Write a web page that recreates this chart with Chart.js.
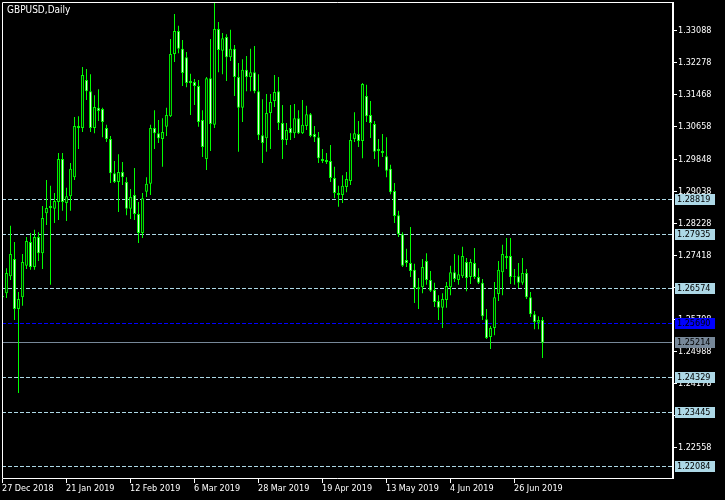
<!DOCTYPE html>
<html>
<head>
<meta charset="utf-8">
<script src="https://cdn.jsdelivr.net/npm/chart.js@4.4.0/dist/chart.umd.min.js"></script>
<style>
  html, body { margin: 0; padding: 0; background: #000; }
</style>
</head>
<body>
<canvas id="myChart" width="725" height="500"></canvas>
<script>
// GBPUSD daily, 27 Dec 2018 .. 5 Jul 2019 (one entry per bar)
var openP = [
 1.2639,1.2646,1.2689,1.2732,1.2606,1.2636,1.2715,1.2775,1.2712,1.2788,
 1.2747,1.2848,1.2866,1.2859,1.2876,1.2985,1.2874,1.2891,1.2939,1.3068,
 1.3063,1.3184,1.3156,1.3063,1.3114,1.3111,1.3063,1.3035,1.2949,1.2927,
 1.2952,1.2927,1.2859,1.2894,1.2846,1.2798,1.2902,1.2922,1.3063,1.3050,
 1.3035,1.3066,1.3093,1.3250,1.3308,1.3263,1.3242,1.3182,1.3179,1.3169,
 1.3083,1.2985,1.3189,1.3071,1.3313,1.3258,1.3293,1.3242,1.3263,1.3192,
 1.3114,1.3210,1.3192,1.3204,1.3156,1.3045,1.3037,1.3101,1.3131,1.3156,
 1.3076,1.3033,1.3063,1.3050,1.3088,1.3050,1.3068,1.3098,1.3048,1.3040,
 1.2985,1.2982,1.2980,1.2937,1.2899,1.2894,1.2914,1.2929,1.3035,1.3048,
 1.3030,1.3144,1.3096,1.3073,1.3010,1.3005,1.2992,1.2960,1.2904,1.2843,
 1.2795,1.2730,1.2722,1.2705,1.2661,1.2661,1.2727,1.2679,1.2654,1.2626,
 1.2609,1.2629,1.2661,1.2699,1.2679,1.2689,1.2725,1.2687,1.2722,1.2687,
 1.2672,1.2580,1.2535,1.2558,1.2644,1.2699,1.2735,1.2740,1.2689,1.2689,
 1.2672,1.2697,1.2636,1.2593,1.2571,1.2578
];
var highP = [
 1.2644,1.2709,1.2816,1.2775,1.2649,1.2745,1.2788,1.2798,1.2806,1.2800,
 1.2866,1.2932,1.2917,1.2899,1.3000,1.3000,1.2912,1.2975,1.3091,1.3093,
 1.3217,1.3212,1.3199,1.3146,1.3161,1.3114,1.3071,1.3043,1.2980,1.2997,
 1.2977,1.2939,1.2909,1.2962,1.2876,1.2899,1.2939,1.3071,1.3108,1.3083,
 1.3088,1.3114,1.3288,1.3351,1.3321,1.3285,1.3255,1.3200,1.3187,1.3184,
 1.3108,1.3192,1.3288,1.3379,1.3331,1.3303,1.3300,1.3311,1.3273,1.3227,
 1.3237,1.3245,1.3263,1.3270,1.3199,1.3136,1.3149,1.3149,1.3197,1.3192,
 1.3121,1.3076,1.3121,1.3124,1.3108,1.3134,1.3119,1.3101,1.3068,1.3053,
 1.3010,1.3000,1.3020,1.2965,1.2917,1.2944,1.2952,1.3050,1.3103,1.3081,
 1.3177,1.3172,1.3131,1.3081,1.3035,1.3048,1.3040,1.2970,1.2924,1.2854,
 1.2800,1.2758,1.2813,1.2720,1.2684,1.2732,1.2747,1.2702,1.2672,1.2641,
 1.2646,1.2674,1.2715,1.2745,1.2742,1.2763,1.2735,1.2732,1.2760,1.2709,
 1.2682,1.2606,1.2563,1.2674,1.2727,1.2768,1.2785,1.2785,1.2707,1.2722,
 1.2735,1.2707,1.2649,1.2601,1.2588,1.2586
];
var lowP = [
 1.2631,1.2634,1.2679,1.2578,1.2394,1.2614,1.2707,1.2705,1.2705,1.2727,
 1.2707,1.2818,1.2667,1.2823,1.2831,1.2854,1.2828,1.2854,1.2932,1.3010,
 1.3053,1.3134,1.3053,1.3050,1.3081,1.3040,1.3028,1.2924,1.2924,1.2851,
 1.2919,1.2843,1.2833,1.2831,1.2773,1.2785,1.2889,1.2894,1.3010,1.3025,
 1.2965,1.3043,1.3091,1.3230,1.3252,1.3169,1.3166,1.3096,1.3121,1.3066,
 1.2990,1.2957,1.3005,1.3063,1.3204,1.3199,1.3182,1.3232,1.3144,1.3003,
 1.3078,1.3156,1.3156,1.3151,1.3033,1.2975,1.3003,1.3010,1.3116,1.3058,
 1.2985,1.3020,1.3033,1.3038,1.3048,1.3048,1.3058,1.3040,1.3028,1.2975,
 1.2975,1.2972,1.2927,1.2886,1.2864,1.2874,1.2901,1.2919,1.3028,1.3015,
 1.2987,1.3078,1.3038,1.2985,1.2965,1.2990,1.2939,1.2896,1.2823,1.2788,
 1.2712,1.2712,1.2687,1.2621,1.2606,1.2646,1.2667,1.2649,1.2611,1.2578,
 1.2558,1.2609,1.2641,1.2674,1.2667,1.2684,1.2651,1.2669,1.2682,1.2669,
 1.2578,1.2530,1.2505,1.2540,1.2626,1.2641,1.2707,1.2669,1.2667,1.2659,
 1.2667,1.2631,1.2586,1.2555,1.2555,1.2482
];
var closeP = [
 1.2636,1.2697,1.2745,1.2606,1.2631,1.2725,1.2778,1.2712,1.2788,1.2747,
 1.2836,1.2861,1.2861,1.2879,1.2985,1.2876,1.2891,1.2960,1.3068,1.3063,
 1.3197,1.3156,1.3063,1.3116,1.3106,1.3078,1.3035,1.2949,1.2927,1.2952,
 1.2939,1.2859,1.2889,1.2846,1.2798,1.2886,1.2922,1.3063,1.3050,1.3037,
 1.3053,1.3096,1.3250,1.3308,1.3263,1.3202,1.3177,1.3177,1.3169,1.3078,
 1.3015,1.3189,1.3073,1.3313,1.3260,1.3290,1.3242,1.3263,1.3192,1.3114,
 1.3210,1.3192,1.3204,1.3156,1.3045,1.3025,1.3101,1.3129,1.3154,1.3076,
 1.3033,1.3058,1.3050,1.3088,1.3050,1.3071,1.3098,1.3043,1.3040,1.2987,
 1.2980,1.2977,1.2937,1.2899,1.2894,1.2917,1.2934,1.3033,1.3050,1.3030,
 1.3174,1.3093,1.3076,1.3003,1.3005,1.3000,1.2955,1.2901,1.2841,1.2795,
 1.2715,1.2722,1.2702,1.2659,1.2656,1.2712,1.2679,1.2652,1.2624,1.2609,
 1.2631,1.2664,1.2699,1.2682,1.2694,1.2740,1.2684,1.2725,1.2687,1.2672,
 1.2588,1.2533,1.2558,1.2636,1.2705,1.2745,1.2740,1.2687,1.2687,1.2672,
 1.2697,1.2636,1.2593,1.2573,1.2578,1.2521
];

var priceTicks = [1.33088, 1.32278, 1.31468, 1.30658, 1.29848, 1.29038, 1.28228,
                  1.27418, 1.26608, 1.25798, 1.24988, 1.24178, 1.23368, 1.22558];
var dateTicks = ['27 Dec 2018', '21 Jan 2019', '12 Feb 2019', '6 Mar 2019', '28 Mar 2019',
                 '19 Apr 2019', '13 May 2019', '4 Jun 2019', '26 Jun 2019'];
var dateTickBars = [0, 16, 32, 48, 64, 80, 96, 112, 128];

var levelLines = [1.28819, 1.27935, 1.26574, 1.24329, 1.23445, 1.22084];
var markerLevel = 1.25690;
var bidPrice = 1.25214;

var FONT = '9px "DejaVu Sans Condensed", "DejaVu Sans", sans-serif';
var TITLE_FONT = '10px "DejaVu Sans Condensed", "DejaVu Sans", sans-serif';
var GREEN = '#00ff00';

var bodies = [], wicks = [], bodyColors = [];
for (var i = 0; i < openP.length; i++) {
    bodies.push({x: i, y: [openP[i], closeP[i]]});
    wicks.push({x: i, y: [lowP[i], highP[i]]});
    bodyColors.push(closeP[i] < openP[i] ? '#ffffff' : '#000000');
}

function priceLabel(ctx, py, text, bg) {
    ctx.fillStyle = bg;
    ctx.fillRect(675, py - 5, 40, 11);
    ctx.fillStyle = '#000000';
    ctx.textAlign = 'left';
    ctx.textBaseline = 'middle';
    ctx.fillText(text, 677, py + 0.5);
}

var mtPlugin = {
    id: 'mt',
    beforeDatasetsDraw(chart) {
        var ctx = chart.ctx, a = chart.chartArea, y = chart.scales.y;
        ctx.save();
        ctx.beginPath();
        ctx.rect(a.left, a.top, a.right - a.left, a.bottom - a.top);
        ctx.clip();
        ctx.lineWidth = 1;
        ctx.setLineDash([4, 2]);
        ctx.strokeStyle = '#add8e6';
        levelLines.forEach(function (v) {
            var py = Math.floor(y.getPixelForValue(v)) + 0.5;
            ctx.beginPath(); ctx.moveTo(a.left, py); ctx.lineTo(a.right, py); ctx.stroke();
        });
        ctx.strokeStyle = '#0000ff';
        var pm = Math.floor(y.getPixelForValue(markerLevel)) + 0.5;
        ctx.beginPath(); ctx.moveTo(a.left, pm); ctx.lineTo(a.right, pm); ctx.stroke();
        ctx.setLineDash([]);
        ctx.strokeStyle = '#778899';
        var pb = Math.floor(y.getPixelForValue(bidPrice)) + 0.5;
        ctx.beginPath(); ctx.moveTo(a.left, pb); ctx.lineTo(a.right, pb); ctx.stroke();
        ctx.restore();
    },
    afterDraw(chart) {
        var ctx = chart.ctx, a = chart.chartArea, x = chart.scales.x, y = chart.scales.y;
        ctx.save();
        // frame
        ctx.strokeStyle = '#ffffff';
        ctx.lineWidth = 1;
        ctx.beginPath();
        ctx.moveTo(a.right, a.top + 0.5); ctx.lineTo(a.left + 0.5, a.top + 0.5);
        ctx.lineTo(a.left + 0.5, a.bottom + 0.5); ctx.lineTo(a.right, a.bottom + 0.5);
        ctx.stroke();
        ctx.fillStyle = '#ffffff';
        ctx.fillRect(a.right, a.top, 2, a.bottom - a.top + 1);

        ctx.font = FONT;
        // price axis
        ctx.textAlign = 'left';
        ctx.textBaseline = 'middle';
        priceTicks.forEach(function (v, k) {
            var py = Math.floor(y.getPixelForValue(v)) + 0.5;
            ctx.fillStyle = '#ffffff';
            ctx.fillRect(a.right + 1, py - 0.5, 4, 1);
            ctx.fillText(v.toFixed(5), a.right + 6, py + 0.5);
        });
        // date axis
        dateTickBars.forEach(function (b, k) {
            var px = x.getPixelForValue(b);
            ctx.fillStyle = '#ffffff';
            ctx.fillRect(px - 0.5, a.bottom + 1, 1, 4);
            ctx.textBaseline = 'middle';
            ctx.fillText(dateTicks[k], px - 0.5, a.bottom + 10.5);
        });
        // title
        ctx.font = TITLE_FONT;
        ctx.fillText('GBPUSD,Daily', 7, 10.5);

        // line labels
        ctx.font = FONT;
        levelLines.forEach(function (v) {
            priceLabel(ctx, Math.floor(y.getPixelForValue(v)), v.toFixed(5), '#add8e6');
        });
        priceLabel(ctx, Math.floor(y.getPixelForValue(markerLevel)), markerLevel.toFixed(5), '#0000ff');
        priceLabel(ctx, Math.floor(y.getPixelForValue(bidPrice)), bidPrice.toFixed(5), '#778899');
        ctx.restore();
    }
};

var ctx = document.getElementById('myChart');
var myChart = new Chart(ctx, {
    type: 'bar',
    data: {
        datasets: [
        {
            label: 'body',
            data: bodies,
            order: 0,
            grouped: false,
            maxBarThickness: 3,
            borderWidth: 1,
            borderColor: GREEN,
            backgroundColor: bodyColors,
            borderSkipped: false,
            inflateAmount: 0
        },
        {
            label: 'wick',
            data: wicks,
            order: 1,
            grouped: false,
            maxBarThickness: 1,
            borderWidth: 0,
            backgroundColor: GREEN,
            inflateAmount: 0
        }]
    },
    options: {
        responsive: false,
        animation: false,
        layout: { padding: { left: 2, top: 2, right: 53, bottom: 22 } },
        plugins: { legend: { display: false }, tooltip: { enabled: false } },
        scales: {
            x: { type: 'linear', min: -0.125, max: 167.375, offset: false, display: false },
            y: { min: 1.2179255, max: 1.3381275, display: false }
        }
    },
    plugins: [mtPlugin]
});
</script>
</body>
</html>
